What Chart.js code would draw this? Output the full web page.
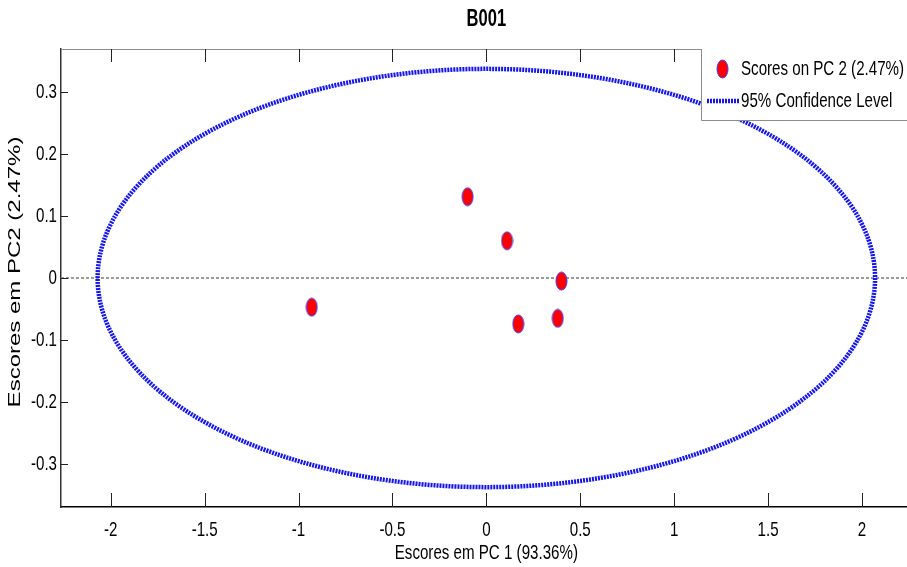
<!DOCTYPE html>
<html>
<head>
<meta charset="utf-8">
<script src="https://cdn.jsdelivr.net/npm/chart.js@4/dist/chart.umd.min.js"></script>
<style>
  html, body { margin: 0; padding: 0; background: #fff; }
  #wrap { width: 907px; height: 567px; }
</style>
</head>
<body>
<div id="wrap"><canvas id="pca" width="907" height="567"></canvas></div>
<script>
// B001 — PCA scores plot with 95% confidence ellipse

const chartTitle = "B001";
const seriesLabels = ["Scores on PC 2 (2.47%)", "95% Confidence Level"];
const xTitle = "Escores em PC 1 (93.36%)";
const yTitle = "Escores em PC2 (2.47%)";

const scoresX = [-0.93, -0.10, 0.11, 0.40, 0.17, 0.38];
const scoresY = [-0.047, 0.131, 0.060, -0.005, -0.074, -0.065];

// confidence ellipse: centre and semi-axes in data units
const ellipseCenter = [0, 0];
const ellipseRadius = [2.07, 0.337];

const xTicks = [-2, -1.5, -1, -0.5, 0, 0.5, 1, 1.5, 2];
const yTicks = [-0.3, -0.2, -0.1, 0, 0.1, 0.2, 0.3];
const xRange = [-2.265, 2.24];
const yRange = [-0.369, 0.369];

const sans = "'Liberation Sans', Arial, Helvetica, sans-serif";
const squeeze = 0.72;   // the original figure is squashed horizontally
const ellipseBlue = "#1515f0";

// red oval marker with thin blue edge (matlab style)
function makeMarker() {
  const c = document.createElement("canvas");
  c.width = 13; c.height = 20;
  const g = c.getContext("2d");
  g.beginPath();
  g.ellipse(6.5, 10, 5.5, 9, 0, 0, Math.PI * 2);
  g.fillStyle = "#ff0000";
  g.fill();
  g.lineWidth = 1;
  g.strokeStyle = "#3a3aff";
  g.stroke();
  return c;
}
const marker = makeMarker();

// narrow text: compress horizontally around its anchor point
function narrowText(ctx, txt, x, y, size, align, weight) {
  ctx.save();
  ctx.translate(x, y);
  ctx.scale(squeeze, 1);
  ctx.font = (weight || "") + " " + size + "px " + sans;
  ctx.textAlign = align;
  ctx.textBaseline = "middle";
  ctx.fillStyle = "#000";
  ctx.fillText(txt, 0, 0);
  ctx.restore();
}

function noPad(s) {
  s.paddingLeft = 0; s.paddingRight = 0;
  s.paddingTop = 0; s.paddingBottom = 0;
}

const pcaPlugin = {
  id: "pcaExtras",
  beforeDatasetsDraw(chart) {
    const { ctx, chartArea: a, scales: { x, y } } = chart;
    ctx.save();
    ctx.beginPath();
    ctx.rect(a.left, a.top, a.right - a.left, a.bottom - a.top);
    ctx.clip();

    // dotted zero line
    const y0 = y.getPixelForValue(0);
    ctx.strokeStyle = "#7a7a7a";
    ctx.lineWidth = 1.5;
    ctx.setLineDash([3, 2]);
    ctx.beginPath();
    ctx.moveTo(a.left, y0);
    ctx.lineTo(a.right, y0);
    ctx.stroke();

    // confidence ellipse
    const cx = x.getPixelForValue(ellipseCenter[0]);
    const cy = y.getPixelForValue(ellipseCenter[1]);
    const rx = x.getPixelForValue(ellipseCenter[0] + ellipseRadius[0]) - cx;
    const ry = cy - y.getPixelForValue(ellipseCenter[1] + ellipseRadius[1]);
    ctx.strokeStyle = ellipseBlue;
    ctx.lineWidth = 4.5;
    ctx.setLineDash([2, 1]);
    ctx.beginPath();
    ctx.ellipse(cx, cy, rx, ry, 0, 0, Math.PI * 2);
    ctx.stroke();
    ctx.restore();
  },
  afterDraw(chart) {
    const { ctx, chartArea: a, scales: { x, y } } = chart;
    ctx.save();

    // top border
    ctx.strokeStyle = "#8c8c8c";
    ctx.lineWidth = 1;
    ctx.beginPath();
    ctx.moveTo(a.left, a.top + 0.5);
    ctx.lineTo(a.right, a.top + 0.5);
    ctx.stroke();

    // inward ticks
    ctx.strokeStyle = "#222";
    ctx.beginPath();
    xTicks.forEach(v => {
      const px = Math.round(x.getPixelForValue(v)) + 0.5;
      ctx.moveTo(px, a.bottom); ctx.lineTo(px, a.bottom - 14);
      ctx.moveTo(px, a.top); ctx.lineTo(px, a.top + 13);
    });
    yTicks.forEach(v => {
      const py = Math.round(y.getPixelForValue(v)) + 0.5;
      ctx.moveTo(a.left, py); ctx.lineTo(a.left + 7, py);
    });
    ctx.stroke();

    // tick labels
    xTicks.forEach(v => narrowText(ctx, String(v), x.getPixelForValue(v), a.bottom + 23, 21, "center"));
    yTicks.forEach(v => narrowText(ctx, String(v), a.left - 4, y.getPixelForValue(v), 21, "right"));

    // titles
    narrowText(ctx, chartTitle, x.getPixelForValue(0), 20, 23, "center", "bold");
    narrowText(ctx, xTitle, x.getPixelForValue(0), 553, 21, "center");
    ctx.save();
    ctx.translate(15, 272);
    ctx.scale(squeeze, 1);
    ctx.rotate(-Math.PI / 2);
    ctx.font = "24px " + sans;
    ctx.textAlign = "center";
    ctx.textBaseline = "middle";
    ctx.fillStyle = "#000";
    ctx.fillText(yTitle, 0, 0);
    ctx.restore();

    // legend box
    const lx = 701, ly = a.top, lw = 220, lh = 71;
    ctx.fillStyle = "#fff";
    ctx.fillRect(lx, ly, lw, lh);
    ctx.strokeStyle = "#8c8c8c";
    ctx.lineWidth = 1;
    ctx.beginPath();
    ctx.moveTo(lx + 0.5, ly);
    ctx.lineTo(lx + 0.5, ly + lh + 0.5);
    ctx.lineTo(lx + lw, ly + lh + 0.5);
    ctx.stroke();

    ctx.drawImage(marker, 716, 59);
    ctx.strokeStyle = ellipseBlue;
    ctx.lineWidth = 4.5;
    ctx.setLineDash([2, 1]);
    ctx.beginPath();
    ctx.moveTo(707, 101);
    ctx.lineTo(739, 101);
    ctx.stroke();

    narrowText(ctx, chart.data.datasets[0].label, 741, 69, 21, "left");
    narrowText(ctx, seriesLabels[1], 741, 101, 21, "left");
    ctx.restore();
  }
};

const scorePoints = scoresX.map((v, i) => ({ x: v, y: scoresY[i] }));

new Chart(document.getElementById("pca"), {
  type: "scatter",
  data: {
    datasets: [{
      label: seriesLabels[0],
      data: scorePoints,
      pointStyle: marker,
      pointRadius: 8,
      pointHoverRadius: 8,
      clip: false,
    }]
  },
  options: {
    responsive: false,
    animation: false,
    events: [],
    layout: { padding: { top: 49, left: 0, right: 0, bottom: 0 }, autoPadding: false },
    plugins: { legend: { display: false }, title: { display: false }, tooltip: { enabled: false } },
    scales: {
      x: {
        type: "linear",
        min: xRange[0], max: xRange[1],
        afterBuildTicks: s => { s.ticks = xTicks.map(v => ({ value: v })); },
        afterFit: s => { s.height = 60; noPad(s); },
        grid: { display: false },
        border: { display: true, color: "#000", width: 1.5 },
        ticks: { display: false }
      },
      y: {
        type: "linear",
        min: yRange[0], max: yRange[1],
        afterBuildTicks: s => { s.ticks = yTicks.map(v => ({ value: v })); },
        afterFit: s => { s.width = 61; noPad(s); },
        grid: { display: false },
        border: { display: true, color: "#333", width: 1.5 },
        ticks: { display: false }
      }
    }
  },
  plugins: [pcaPlugin]
});
</script>
</body>
</html>
